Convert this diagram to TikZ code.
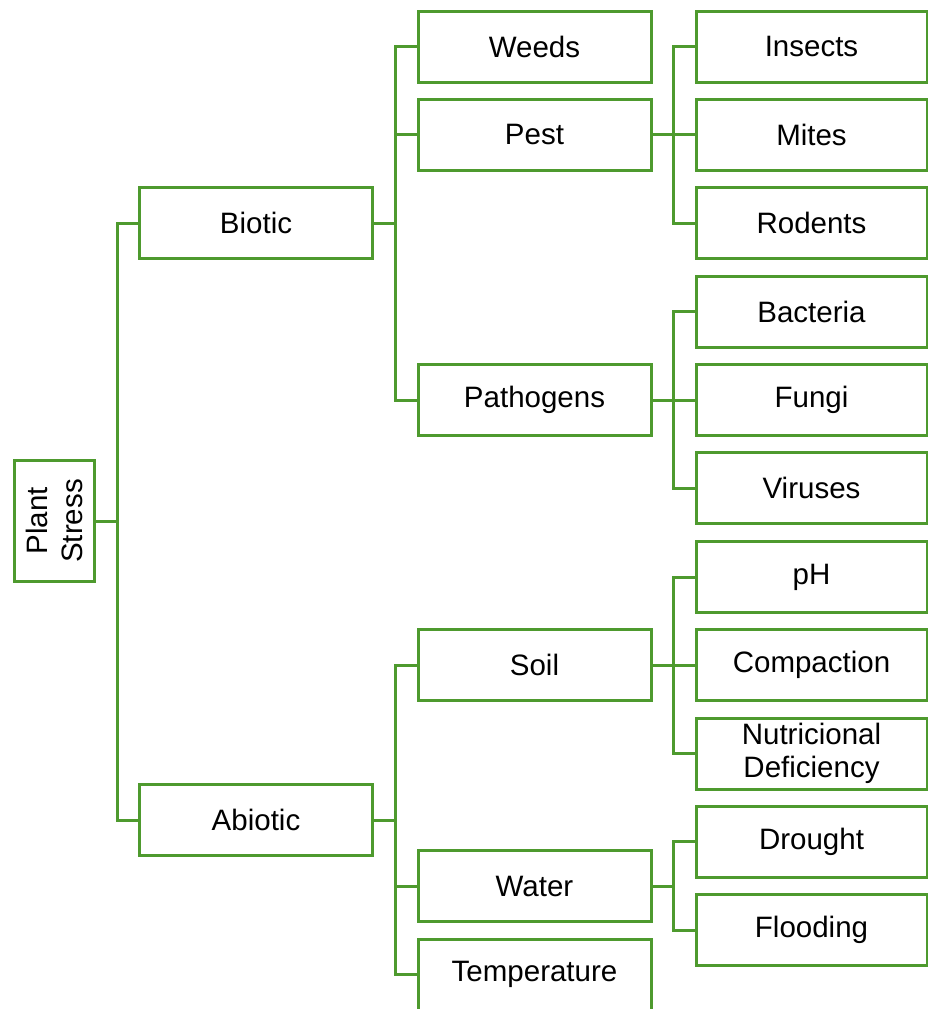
\documentclass[tikz,border=0pt]{standalone}
\usepackage{fontspec}
\setmainfont{Liberation Sans}
\definecolor{lg}{RGB}{78,154,46}
\begin{document}
\begin{tikzpicture}[x=1pt,y=-1pt,
  box/.style={draw=lg,line width=3pt,fill=white,minimum width=233pt,minimum height=71pt,inner sep=0pt,
    font=\fontsize{29.5}{33}\selectfont,align=center},
  leaf/.style={box,minimum width=231pt},
  link/.style={draw=lg,line width=3pt}]
\useasboundingbox (0,0) rectangle (928,1009);
\clip (0,0) rectangle (928,1009);
% root
\node[box,rotate=90,minimum width=121pt,minimum height=80pt,font=\fontsize{29.5}{35}\selectfont] (ps) at (54,521) {Plant\\Stress};
% level 1
\node[box] (bio) at (256,223) {Biotic};
\node[box] (abio) at (256,820) {Abiotic};
% level 2
\node[box] (weeds) at (534.5,46.5) {Weeds};
\node[box] (pest) at (534.5,134.5) {Pest};
\node[box] (path) at (534.5,400) {Pathogens};
\node[box] (soil) at (534.5,665) {Soil};
\node[box] (water) at (534.5,886) {Water};
\node[box] (temp) at (534.5,974.5) {Temperature};
% level 3
\node[leaf] (ins) at (811.5,46.5) {Insects};
\node[leaf] (mites) at (811.5,134.5) {Mites};
\node[leaf] (rod) at (811.5,223) {Rodents};
\node[leaf] (bac) at (811.5,311.5) {Bacteria};
\node[leaf] (fun) at (811.5,400) {Fungi};
\node[leaf] (vir) at (811.5,488) {Viruses};
\node[leaf] (ph) at (811.5,577) {pH};
\node[leaf] (comp) at (811.5,665) {Compaction};
\node[leaf] (nut) at (811.5,753.5) {Nutricional\\Deficiency};
\node[leaf] (dro) at (811.5,841.5) {Drought};
\node[leaf] (flo) at (811.5,930) {Flooding};
% junctions
\coordinate (j0) at (117,521);
\coordinate (j1) at (395,223);
\coordinate (j2) at (395,820);
\coordinate (j3) at (673,134.5);
\coordinate (j4) at (673,400);
\coordinate (j5) at (673,665);
\coordinate (j6) at (673,886);
% connectors
\draw[link] (ps.south) -- (j0);
\draw[link] (j0) |- (bio.west);
\draw[link] (j0) |- (abio.west);
\draw[link] (bio.east) -- (j1);
\draw[link] (j1) |- (weeds.west);
\draw[link] (j1) |- (pest.west);
\draw[link] (j1) |- (path.west);
\draw[link] (abio.east) -- (j2);
\draw[link] (j2) |- (soil.west);
\draw[link] (j2) |- (water.west);
\draw[link] (j2) |- (temp.west);
\draw[link] (pest.east) -- (j3);
\draw[link] (j3) |- (ins.west);
\draw[link] (j3) |- (mites.west);
\draw[link] (j3) |- (rod.west);
\draw[link] (path.east) -- (j4);
\draw[link] (j4) |- (bac.west);
\draw[link] (j4) |- (fun.west);
\draw[link] (j4) |- (vir.west);
\draw[link] (soil.east) -- (j5);
\draw[link] (j5) |- (ph.west);
\draw[link] (j5) |- (comp.west);
\draw[link] (j5) |- (nut.west);
\draw[link] (water.east) -- (j6);
\draw[link] (j6) |- (dro.west);
\draw[link] (j6) |- (flo.west);
\end{tikzpicture}
\end{document}
